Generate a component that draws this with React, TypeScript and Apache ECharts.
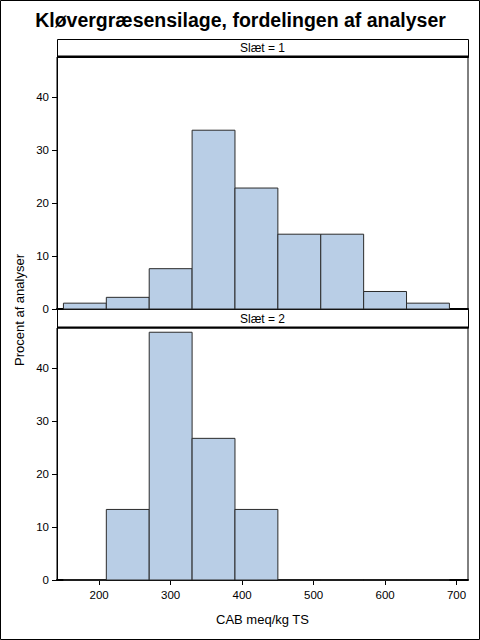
import React, { useEffect, useRef } from "react";
import * as echarts from "echarts";

const binStarts = [150, 210, 270, 330, 390, 450, 510, 570, 630];
const binWidth = 60;
const pctSlaet1 = [1.1, 2.2, 7.6, 33.7, 22.8, 14.1, 14.1, 3.3, 1.1];
const pctSlaet2 = [0, 13.3, 46.7, 26.7, 13.3, 0, 0, 0, 0];
const xTicks = [200, 300, 400, 500, 600, 700];
const yTicks = [0, 10, 20, 30, 40];
const panelLabels = ["Slæt = 1", "Slæt = 2"];
const titleText = "Kløvergræsensilage, fordelingen af analyser";
const xName = "CAB meq/kg TS";
const yName = "Procent af analyser";

const FONT = "Liberation Sans, Arial, sans-serif";
const L = 57;
const R = 468;
const P1_TOP = 57;
const P1_BOT = 309;
const P2_TOP = 328;
const P2_BOT = 580;
const FILL = "#B9CEE6";

function renderBar(params: any, api: any) {
  const x0 = api.value(0);
  const v = api.value(1);
  const a = api.coord([x0, 0]);
  const b = api.coord([x0 + binWidth, v]);
  return {
    type: "rect",
    shape: { x: a[0], y: b[1], width: b[0] - a[0], height: a[1] - b[1] },
    style: { fill: FILL, stroke: "#2b2b2b", lineWidth: 1 },
  };
}

export default function App() {
  const ref = useRef<HTMLDivElement>(null);
  useEffect(() => {
    if (!ref.current) return;
    const chart = echarts.init(ref.current, null, { renderer: "svg" });
    const xAxisBase = (gridIndex: number, showLabels: boolean) => ({
      type: "value",
      gridIndex,
      min: 141,
      max: 716,
      splitLine: { show: false },
      axisLine: { show: true, lineStyle: { color: "#000", width: 2 } },
      axisTick: { show: showLabels, length: 5, customValues: xTicks, lineStyle: { color: "#000" } },
      axisLabel: {
        show: showLabels,
        customValues: xTicks,
        color: "#000",
        fontFamily: FONT,
        fontSize: 11.5,
        margin: 9,
      },
    });
    const yAxisBase = (gridIndex: number) => ({
      type: "value",
      gridIndex,
      min: 0,
      max: 47.5,
      splitLine: { show: false },
      axisLine: { show: true, lineStyle: { color: "#000", width: 1 } },
      axisTick: { show: true, length: 5, customValues: yTicks, lineStyle: { color: "#000" } },
      axisLabel: {
        customValues: yTicks,
        color: "#000",
        fontFamily: FONT,
        fontSize: 11.5,
        margin: 8,
      },
    });
    chart.setOption({
      animation: false,
      backgroundColor: "#fff",
      grid: [
        { left: L, width: R - L, top: P1_TOP, height: P1_BOT - P1_TOP, show: true, borderColor: "#000", borderWidth: 1 },
        { left: L, width: R - L, top: P2_TOP, height: P2_BOT - P2_TOP, show: true, borderColor: "#000", borderWidth: 1 },
      ],
      xAxis: [xAxisBase(0, false), xAxisBase(1, true)],
      yAxis: [yAxisBase(0), yAxisBase(1)],
      series: [
        {
          type: "custom",
          xAxisIndex: 0,
          yAxisIndex: 0,
          renderItem: renderBar,
          encode: { x: 0, y: 1 },
          data: binStarts.map((s, i) => [s, pctSlaet1[i]]),
        },
        {
          type: "custom",
          xAxisIndex: 1,
          yAxisIndex: 1,
          renderItem: renderBar,
          encode: { x: 0, y: 1 },
          data: binStarts.map((s, i) => [s, pctSlaet2[i]]),
        },
      ],
      graphic: [
        {
          type: "rect",
          shape: { x: 0.5, y: 0.5, width: 479, height: 639 },
          style: { fill: "none", stroke: "#000", lineWidth: 1 },
          silent: true,
        },
        {
          type: "text",
          x: 240.5,
          y: 20,
          style: {
            text: titleText,
            fontFamily: FONT,
            fontWeight: "bold",
            fontSize: 19.5,
            fill: "#000",
            textAlign: "center",
            textVerticalAlign: "middle",
          },
        },
        {
          type: "rect",
          shape: { x: L + 0.5, y: 39.5, width: R - L, height: P1_TOP - 39 },
          style: { fill: "#fff", stroke: "#000", lineWidth: 1 },
        },
        {
          type: "line",
          shape: { x1: L, y1: P1_TOP - 0.5, x2: R + 1, y2: P1_TOP - 0.5 },
          style: { stroke: "#000", lineWidth: 2 },
        },
        {
          type: "text",
          x: (L + R) / 2,
          y: 48,
          style: {
            text: panelLabels[0],
            fontFamily: FONT,
            fontSize: 12,
            fill: "#000",
            textAlign: "center",
            textVerticalAlign: "middle",
          },
        },
        {
          type: "rect",
          shape: { x: L + 0.5, y: P1_BOT + 0.5, width: R - L, height: P2_TOP - P1_BOT - 1 },
          style: { fill: "#fff", stroke: "#000", lineWidth: 1 },
        },
        {
          type: "line",
          shape: { x1: L, y1: P2_TOP - 0.5, x2: R + 1, y2: P2_TOP - 0.5 },
          style: { stroke: "#000", lineWidth: 2 },
        },
        {
          type: "text",
          x: (L + R) / 2,
          y: 319,
          style: {
            text: panelLabels[1],
            fontFamily: FONT,
            fontSize: 12,
            fill: "#000",
            textAlign: "center",
            textVerticalAlign: "middle",
          },
        },
        {
          type: "text",
          x: 19,
          y: 310,
          rotation: Math.PI / 2,
          style: {
            text: yName,
            fontFamily: FONT,
            fontSize: 13,
            fill: "#000",
            textAlign: "center",
            textVerticalAlign: "middle",
          },
        },
        {
          type: "text",
          x: (L + R) / 2,
          y: 619,
          style: {
            text: xName,
            fontFamily: FONT,
            fontSize: 13,
            fill: "#000",
            textAlign: "center",
            textVerticalAlign: "middle",
          },
        },
      ],
    });
    return () => chart.dispose();
  }, []);
  return (
    <div
      ref={ref}
      style={{ position: "absolute", left: 0, top: 0, width: 480, height: 640 }}
    />
  );
}
